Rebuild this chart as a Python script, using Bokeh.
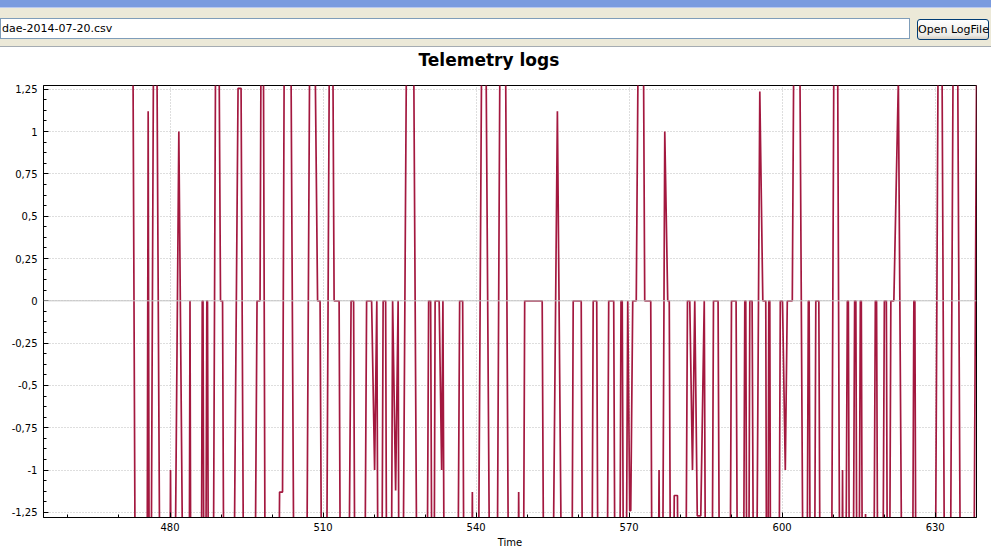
from bokeh.plotting import figure
from bokeh.models import (FixedTicker, CustomJSTickFormatter, Span, Div, ColumnDataSource, Range1d, Title)
from bokeh.layouts import column
from bokeh.embed import file_html
from bokeh.resources import INLINE

# ---- data (+/-3.5 = off-scale readings) ----
file_name = "dae-2014-07-20.csv"
button_label = "Open LogFile"
chart_title = "Telemetry logs"
x_label = "Time"

time = [
    472.45, 473.43, 475.39, 475.72, 476.04, 477.06, 478.33, 479.71, 480.10, 480.49,
    481.73, 483.04, 483.63, 483.92, 484.22, 485.98, 486.32, 486.47, 486.81, 487.22,
    487.35, 487.69, 488.24, 489.22, 489.90, 490.30, 490.79, 492.06, 493.34, 493.93,
    494.71, 496.28, 497.06, 497.65, 498.10, 498.83, 500.89, 501.48, 502.06, 502.65,
    503.34, 504.61, 506.48, 507.75, 508.93, 509.42, 510.01, 510.40, 511.58, 512.17,
    513.15, 513.64, 514.62, 515.50, 515.99, 516.48, 517.85, 518.54, 519.52, 520.11,
    520.54, 520.99, 521.29, 521.78, 522.27, 522.66, 523.15, 523.64, 524.23, 524.72,
    525.01, 525.31, 526.78, 527.37, 528.74, 530.11, 530.70, 531.09, 531.58, 531.97,
    532.76, 533.25, 533.50, 533.99, 536.09, 536.78, 537.37, 537.86, 538.84, 539.27,
    539.72, 540.11, 541.49, 543.06, 543.84, 545.02, 545.41, 546.68, 547.96, 548.35,
    548.84, 549.04, 549.53, 552.96, 553.55, 554.53, 555.94, 557.27, 558.55, 559.04,
    560.61, 561.10, 562.47, 562.96, 563.65, 564.14, 565.41, 566.00, 566.98, 567.47,
    567.96, 568.41, 568.65, 569.14, 569.73, 570.12, 570.32, 570.71, 571.40, 572.28,
    572.47, 573.06, 574.24, 574.73, 575.42, 575.87, 576.30, 576.99, 577.57, 577.87,
    578.36, 578.85, 579.48, 579.93, 580.81, 581.44, 581.89, 582.42, 582.87, 583.36,
    584.05, 584.73, 585.22, 586.01, 586.54, 587.44, 587.97, 589.54, 590.07, 590.97,
    591.50, 592.19, 592.68, 592.87, 593.26, 593.66, 594.11, 594.64, 595.62, 596.21,
    596.79, 597.09, 597.38, 597.58, 597.87, 599.15, 599.64, 600.07, 600.62, 601.01,
    601.99, 602.68, 603.07, 604.44, 604.64, 605.13, 605.29, 605.72, 606.11, 606.60,
    607.19, 607.68, 609.44, 610.43, 610.62, 611.50, 611.84, 612.19, 612.78, 612.98,
    613.37, 613.66, 614.21, 614.45, 614.84, 615.33, 615.52, 615.92, 616.35, 616.60,
    617.68, 618.27, 618.51, 618.96, 619.45, 620.04, 620.43, 620.82, 621.31, 621.90,
    622.78, 623.86, 625.33, 625.82, 626.02, 626.41, 629.74, 630.92, 631.02, 632.10,
    632.69, 633.86, 634.06, 635.24, 637.30, 638.47, 638.96,
]

signal = [
    3.5, -3.5, -3.5, 1.12, -3.5, 3.5, -3.5, -3.5, -1.0, -3.5,
    1.0, -3.5, -3.5, 0, -3.5, -3.5, 0, 0, -3.5, 0,
    0, -3.5, -3.5, 3.5, 0, 0, -3.5, -3.5, 1.255, 1.255,
    -3.5, -3.5, 0, 0, 3.5, -3.5, -3.5, -1.13, -1.13, 3.5,
    3.5, -3.5, -3.5, 3.5, 0, 0, -3.5, -3.5, 3.5, 0,
    0, -3.5, -3.5, 0, 0, -3.5, -3.5, 0, 0, -1.0,
    0, -3.5, -3.5, 0, 0, -3.5, -3.5, 0, -1.12, 0,
    -3.5, -3.5, 3.5, 3.5, -3.5, -3.5, 0, 0, -3.5, 0,
    0, -1.0, 0, -3.5, -3.5, 0, 0, -3.5, -3.5, -1.13,
    -3.5, -3.5, 3.5, -3.5, -3.5, 3.5, 3.5, -3.5, -3.5, -1.13,
    -3.5, -3.5, 0, 0, -3.5, -3.5, 1.12, -3.5, -3.5, 0,
    0, -3.5, -3.5, 0, 0, -3.5, -3.5, 0, 0, -3.5,
    -3.5, 0, 0, -3.5, 0, -1.24, -1.24, 0, 0, 3.5,
    3.5, 0, 0, -3.5, -3.5, -1.0, -3.5, 1.0, 0, 0,
    -3.5, -1.15, -1.15, -3.5, -3.5, 0, 0, -1.0, 0, -1.27,
    -1.27, 0, -3.5, -3.5, 0, 0, -3.5, -3.5, 0, 0,
    -3.5, -3.5, 0, 0, -3.5, 0, 0, -3.5, 1.236, 0,
    0, -3.5, 0, 0, -3.5, -3.5, 0, 0, -1.0, 0,
    0, 3.5, 3.5, -3.5, -3.5, 0, 0, -3.5, -3.5, 0,
    0, -3.5, -3.5, 3.5, 3.5, -3.5, -1.0, -3.5, 0, 0,
    -3.5, -3.5, 0, 0, -3.5, 0, 0, -3.5, -1.26, -3.5,
    -3.5, 0, 0, -3.5, -3.5, 0, 0, -3.5, 0, 0,
    1.3, -3.5, -3.5, 0, 0, -3.5, -3.5, 3.5, 3.5, -3.5,
    -3.5, 3.5, 3.5, -3.5, -3.5, 3.5, 3.5,
]

x_major = [480, 510, 540, 570, 600, 630]
x_minor = [460, 470, 490, 500, 520, 530, 550, 560, 580, 590, 610, 620]
y_major = [-1.25, -1.0, -0.75, -0.5, -0.25, 0.0, 0.25, 0.5, 0.75, 1.0, 1.25]
y_minor = [-1.1875, -1.125, -1.0625, -0.9375, -0.875, -0.8125, -0.6875, -0.625, -0.5625,
           -0.4375, -0.375, -0.3125, -0.1875, -0.125, -0.0625, 0.0625, 0.125, 0.1875,
           0.3125, 0.375, 0.4375, 0.5625, 0.625, 0.6875, 0.8125, 0.875, 0.9375,
           1.0625, 1.125, 1.1875]

FONT = "DejaVu Sans"
LINE_COLOR = "#A3183F"

# ---- header (window strip, file name box + button) ----
header_html = f"""
<div style="position:relative;width:991px;height:47px;background:#ECE9D8;font-family:'{FONT}';font-size:11px;color:#000;overflow:hidden;">
  <div style="position:absolute;left:0px;top:0px;width:991px;height:7px;background:#7A9BDF;"></div>
  <div style="position:absolute;left:0px;top:7px;width:991px;height:1px;background:#B9C9EF;"></div>
  <div style="position:absolute;left:0px;top:18px;width:910px;height:21px;box-sizing:border-box;background:#ffffff;border:1px solid #7F9DB9;line-height:19px;padding-left:1px;white-space:nowrap;overflow:hidden;">{file_name}</div>
  <div style="position:absolute;left:917px;top:19px;width:72px;height:21px;box-sizing:border-box;border:1px solid #003C74;border-radius:3px;background:linear-gradient(#ffffff,#ECEBE6 80%,#D6D0C5);line-height:19px;text-align:center;white-space:nowrap;">{button_label}</div>
  <div style="position:absolute;left:0px;top:46px;width:991px;height:1px;background:#A5ACB2;"></div>
</div>
"""
header = Div(text=header_html, width=991, height=47, margin=0)

# ---- chart ----
p = figure(width=991, height=503, output_backend="svg", toolbar_location=None,
           x_range=Range1d(455.2, 638.1), y_range=Range1d(-1.28, 1.272),
           title=None, min_border_left=43, min_border_right=15,
           min_border_top=0, min_border_bottom=0, margin=0)

# spacer between frame and title, then the title itself (outermost)
spacer = Title(text=" ", text_font_size="1px", standoff=12)
p.add_layout(spacer, "above")
main_title = Title(text=chart_title, text_font=FONT, text_font_size="17px",
                   text_font_style="bold", text_color="black", align="left",
                   offset=375, standoff=1)
p.add_layout(main_title, "above")

p.background_fill_color = "white"
p.border_fill_color = "white"
p.outline_line_color = "black"
p.outline_line_width = 1

src = ColumnDataSource(dict(t=time, v=signal))

zero = Span(location=0, dimension="width", line_color="#c4c4c4", line_width=1)
p.add_layout(zero)

p.line("t", "v", source=src, line_color=LINE_COLOR, line_width=1.7)

for ax in (p.xaxis[0], p.yaxis[0]):
    ax.axis_line_color = "black"
    ax.major_tick_in = 5
    ax.major_tick_out = 0
    ax.minor_tick_in = 3
    ax.minor_tick_out = 0
    ax.major_tick_line_color = "black"
    ax.minor_tick_line_color = "black"
    ax.major_label_text_font = FONT
    ax.major_label_text_font_size = "10px"
    ax.major_label_text_color = "black"

p.xaxis[0].ticker = FixedTicker(ticks=x_major, minor_ticks=x_minor)
p.yaxis[0].ticker = FixedTicker(ticks=y_major, minor_ticks=y_minor)
p.yaxis[0].formatter = CustomJSTickFormatter(code="return String(tick).replace('.', ',');")
p.xaxis[0].major_label_standoff = 5
p.yaxis[0].major_label_standoff = 6
p.xaxis[0].axis_label = x_label
p.xaxis[0].axis_label_text_font = FONT
p.xaxis[0].axis_label_text_font_size = "10px"
p.xaxis[0].axis_label_text_font_style = "normal"
p.xaxis[0].axis_label_text_color = "black"
p.xaxis[0].axis_label_standoff = 3

p.xgrid.grid_line_color = "#bdbdbd"
p.xgrid.grid_line_dash = "1 2"
p.ygrid.grid_line_color = "#bdbdbd"
p.ygrid.grid_line_dash = "1 2"

layout = column(header, p, spacing=0, margin=0)

with open("out.html", "w") as f:
    f.write(file_html(layout, INLINE))
